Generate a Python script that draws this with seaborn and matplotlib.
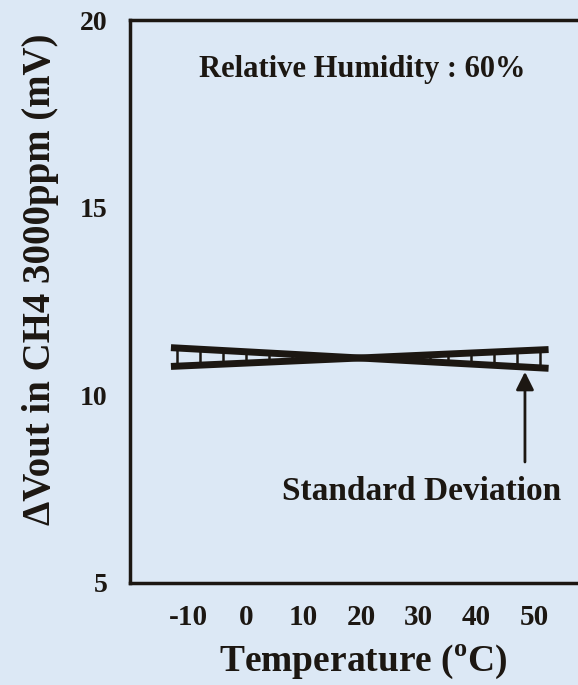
import matplotlib
matplotlib.use("Agg")
import matplotlib.pyplot as plt
import seaborn as sns
import pandas as pd

# data
temps = [-13, 52.5]
upper_start = [11.27, 10.72]   # line falling left -> right
lower_start = [10.77, 11.22]   # line rising left -> right
bar_x = [-12, -8, -4, 0, 4, 8, 12, 28, 32, 35, 39, 43, 47, 51]
xticks = [-10, 0, 10, 20, 30, 40, 50]
yticks = [5, 10, 15, 20]

bg = "#dce8f5"
ink = "#1c1712"

sns.set_theme(style="white", rc={"axes.facecolor": bg, "figure.facecolor": bg})
plt.rcParams["font.family"] = ["Liberation Serif", "DejaVu Serif"]
plt.rcParams["font.weight"] = "bold"

df = pd.DataFrame({
    "temp": temps + temps,
    "dv": upper_start + lower_start,
    "line": ["a", "a", "b", "b"],
})

fig = plt.figure(figsize=(5.78, 6.85), dpi=100)
ax = fig.add_axes([130 / 578, 102 / 685, 448 / 578, 563 / 685])

sns.lineplot(data=df, x="temp", y="dv", units="line", estimator=None,
             color=ink, linewidth=5, ax=ax, legend=False,
             solid_capstyle="butt")

# thin vertical bars between the two lines
def line_at(x, ys):
    t = (x - temps[0]) / (temps[1] - temps[0])
    return ys[0] + t * (ys[1] - ys[0])

for x in bar_x:
    y1 = line_at(x, upper_start)
    y2 = line_at(x, lower_start)
    ax.plot([x, x], [min(y1, y2), max(y1, y2)], color=ink, lw=1.8, zorder=1)

ax.set_xlim(-20.1, 57.6)
ax.set_ylim(5, 20)
ax.set_xticks(xticks)
ax.set_yticks(yticks)
ax.set_xticklabels([str(v) for v in xticks], fontsize=21, fontweight="bold", color=ink)
ax.set_yticklabels([str(v) for v in yticks], fontsize=20, fontweight="bold", color=ink)
ax.tick_params(axis="x", direction="in", length=10, width=1, color=ink, pad=15)
ax.tick_params(axis="y", direction="in", length=10, width=1.5, color=ink, pad=16)

for side in ["left", "bottom", "top"]:
    ax.spines[side].set_visible(True)
    ax.spines[side].set_linewidth(2.5)
    ax.spines[side].set_color(ink)
ax.spines["right"].set_visible(False)

ax.set_xlabel("Temperature ($^{\\mathregular{o}}$C)", fontsize=27, fontweight="bold",
              color=ink)
ax.xaxis.set_label_coords(0.52, -0.106)
ax.set_ylabel("\u0394Vout in CH4 3000ppm (mV)", fontsize=28, fontweight="bold",
              color=ink)
ax.yaxis.set_label_coords(-0.158, 0.54)

ax.text(20.2, 18.67, "Relative Humidity : 60%", ha="center", va="center",
        fontsize=22, fontweight="bold", color=ink)

ax.annotate("", xy=(48.4, 10.7), xytext=(48.4, 8.15),
            arrowprops=dict(arrowstyle="-|>,head_length=0.9,head_width=0.45",
                            color=ink, lw=2))
ax.text(30.4, 7.45, "Standard Deviation", ha="center", va="center",
        fontsize=24, fontweight="bold", color=ink)

fig.savefig("out.png", dpi=100, facecolor=bg)
